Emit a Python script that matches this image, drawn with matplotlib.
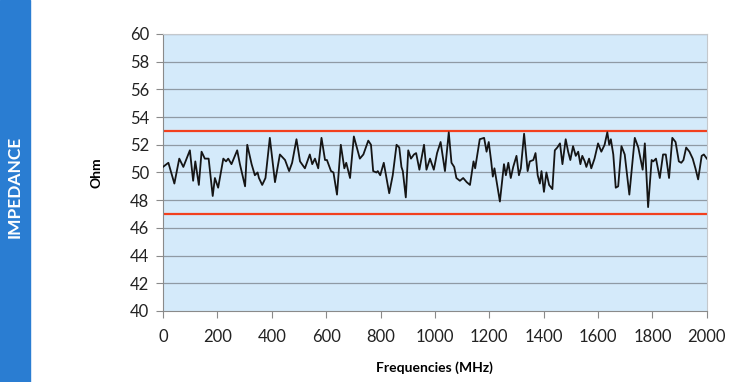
import numpy as np
import matplotlib.pyplot as plt

# impedance trace (MHz, Ohm)
freq = [0, 20, 42, 60, 75, 99, 111, 119, 132, 142, 154, 168, 183, 191, 203,
        222, 232, 240, 252, 273, 283, 302, 310, 326, 338, 348, 353, 365, 377,
        393, 412, 430, 449, 464, 475, 491, 504, 522, 540, 549, 559, 571, 583,
        596, 603, 618, 627, 640, 654, 667, 674, 688, 702, 724, 737, 755, 765,
        773, 785, 790, 799, 812, 832, 845, 859, 869, 877, 882, 893, 902, 912,
        923, 931, 943, 960, 969, 982, 996, 1008, 1021, 1037, 1051, 1061, 1071,
        1079, 1092, 1104, 1117, 1129, 1142, 1148, 1165, 1181, 1190, 1198, 1207,
        1213, 1219, 1239, 1254, 1261, 1270, 1279, 1288, 1300, 1309, 1316, 1328,
        1341, 1349, 1362, 1370, 1378, 1386, 1392, 1401, 1410, 1420, 1432, 1441,
        1450, 1460, 1469, 1481, 1490, 1498, 1508, 1518, 1527, 1535, 1542, 1551,
        1557, 1567, 1575, 1587, 1600, 1612, 1624, 1634, 1641, 1647, 1656, 1665,
        1674, 1686, 1698, 1715, 1735, 1748, 1764, 1772, 1784, 1797, 1803, 1813,
        1827, 1839, 1849, 1861, 1873, 1885, 1897, 1906, 1914, 1924, 1936, 1948,
        1958, 1968, 1981, 1989, 2000]
ohm = [50.4, 50.7, 49.2, 51.0, 50.4, 51.6, 49.4, 50.8, 49.1, 51.5, 51.0, 51.0,
       48.3, 49.6, 48.9, 51.0, 50.8, 51.0, 50.6, 51.6, 50.6, 49.0, 52.0, 50.6,
       49.8, 50.0, 49.6, 49.1, 49.6, 52.5, 49.3, 51.3, 50.9, 50.1, 50.7, 52.4,
       50.8, 50.3, 51.3, 50.6, 51.0, 50.3, 52.5, 50.9, 50.9, 50.1, 50.0, 48.4,
       52.0, 50.3, 50.7, 49.6, 52.6, 51.0, 51.3, 52.3, 52.0, 50.1, 50.0, 50.1,
       49.8, 50.7, 48.5, 49.8, 52.0, 51.8, 50.4, 50.1, 48.2, 51.6, 51.0, 51.3,
       51.4, 50.2, 52.0, 50.2, 51.0, 50.2, 51.4, 52.2, 50.1, 52.9, 50.7, 50.4,
       49.6, 49.4, 49.6, 49.3, 49.1, 50.8, 50.3, 52.4, 52.5, 51.5, 52.2, 50.8,
       49.7, 50.3, 47.9, 50.6, 49.8, 50.7, 49.6, 50.4, 51.2, 49.8, 50.3, 52.8,
       50.1, 50.8, 50.9, 51.4, 49.8, 49.2, 50.1, 48.6, 50.0, 49.1, 48.8, 51.6,
       51.8, 52.1, 50.6, 52.4, 51.5, 50.9, 51.9, 51.2, 51.5, 50.6, 51.2, 50.8,
       50.4, 51.0, 50.3, 51.0, 52.1, 51.5, 52.0, 52.9, 52.0, 52.4, 51.3, 48.9,
       49.0, 51.9, 51.3, 48.4, 52.5, 51.8, 50.2, 52.1, 47.5, 50.9, 50.8, 51.0,
       49.6, 51.3, 51.3, 49.6, 52.5, 52.2, 50.8, 50.7, 50.9, 51.8, 51.5, 51.0,
       50.3, 49.5, 51.2, 51.3, 51.0]
limits = [53, 47]
yticks = np.arange(40, 61, 2)
xticks = np.arange(0, 2001, 200)

plt.rcParams['font.family'] = ['Lato', 'DejaVu Sans']

fig = plt.figure(figsize=(7.34, 3.82), dpi=100)
ax = fig.add_axes([0.222, 0.186, 0.741, 0.725])
ax.set_facecolor('#d4eafa')

for y in yticks[1:]:
    ax.axhline(y, color='#8f9aa4', lw=0.9, zorder=1)
for y in limits:
    ax.axhline(y, color='#f2401e', lw=1.6, zorder=2)

ax.plot(freq, ohm, color='#151515', lw=1.3, zorder=3, solid_joinstyle='round')

ax.set_xlim(0, 2000)
ax.set_ylim(40, 60)
ax.set_xticks(xticks)
ax.set_yticks(yticks)
ax.tick_params(labelsize=12, length=5, color='#8a8a8a', pad=5, labelcolor='#222222')
ax.tick_params(axis='x', pad=8)
for s in ['top', 'right']:
    ax.spines[s].set_color('#c4c8cc')
for s in ['left', 'bottom']:
    ax.spines[s].set_color('#8a8a8a')

ax.set_ylabel('Ohm', fontsize=10, fontweight='bold', labelpad=20)
ax.set_xlabel('Frequencies (MHz)', fontsize=10, fontweight='bold', labelpad=12)

# blue side band with the section title
fig.patches.append(plt.Rectangle((0, 0), 30 / 734, 1, transform=fig.transFigure,
                                 color='#2a7dd2', zorder=0))
fig.text(15 / 734, 0.51, 'IMPEDANCE', rotation=90, color='white', fontsize=12.5,
         fontweight='bold', ha='center', va='center')

fig.savefig('out.png', dpi=100)
